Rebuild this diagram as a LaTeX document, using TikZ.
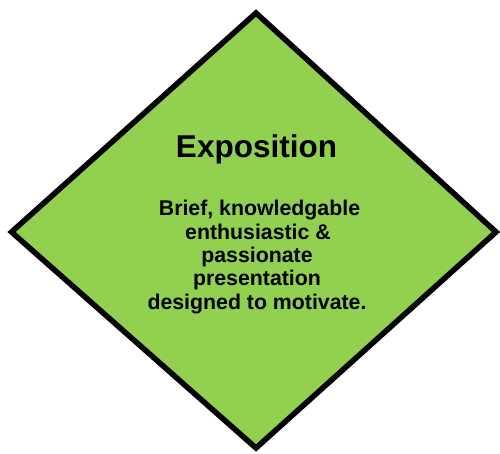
\documentclass[tikz,border=0pt]{standalone}
\usepackage{fontspec}
\setmainfont{Liberation Sans}
\definecolor{diagreen}{HTML}{92D050}
\begin{document}
\begin{tikzpicture}[x=1pt,y=-1pt,
  shapeborder/.style={draw=black,line width=5.5pt,line join=miter,fill=diagreen},
  titletext/.style={anchor=base,font=\fontsize{31.5}{36}\selectfont\bfseries,inner sep=0pt},
  bodytext/.style={anchor=base,font=\fontsize{21.3}{25}\selectfont\bfseries,inner sep=0pt}]
\useasboundingbox (0,0) rectangle (500,454);
\coordinate (top) at (256,13);
\coordinate (right) at (496,232);
\coordinate (bottom) at (256,448);
\coordinate (left) at (11.5,232);
\draw[shapeborder] (top) -- (right) -- (bottom) -- (left) -- cycle;
\node[titletext] (title) at (256.5,158) {Exposition};
\node[bodytext] (l1) at (259.5,216) {Brief, knowledgable};
\node[bodytext] (l2) at (258,239.3) {enthusiastic \&};
\node[bodytext] (l3) at (257,262.6) {passionate};
\node[bodytext] (l4) at (257,285.9) {presentation};
\node[bodytext] (l5) at (257,309.2) {designed to motivate.};
\end{tikzpicture}
\end{document}
